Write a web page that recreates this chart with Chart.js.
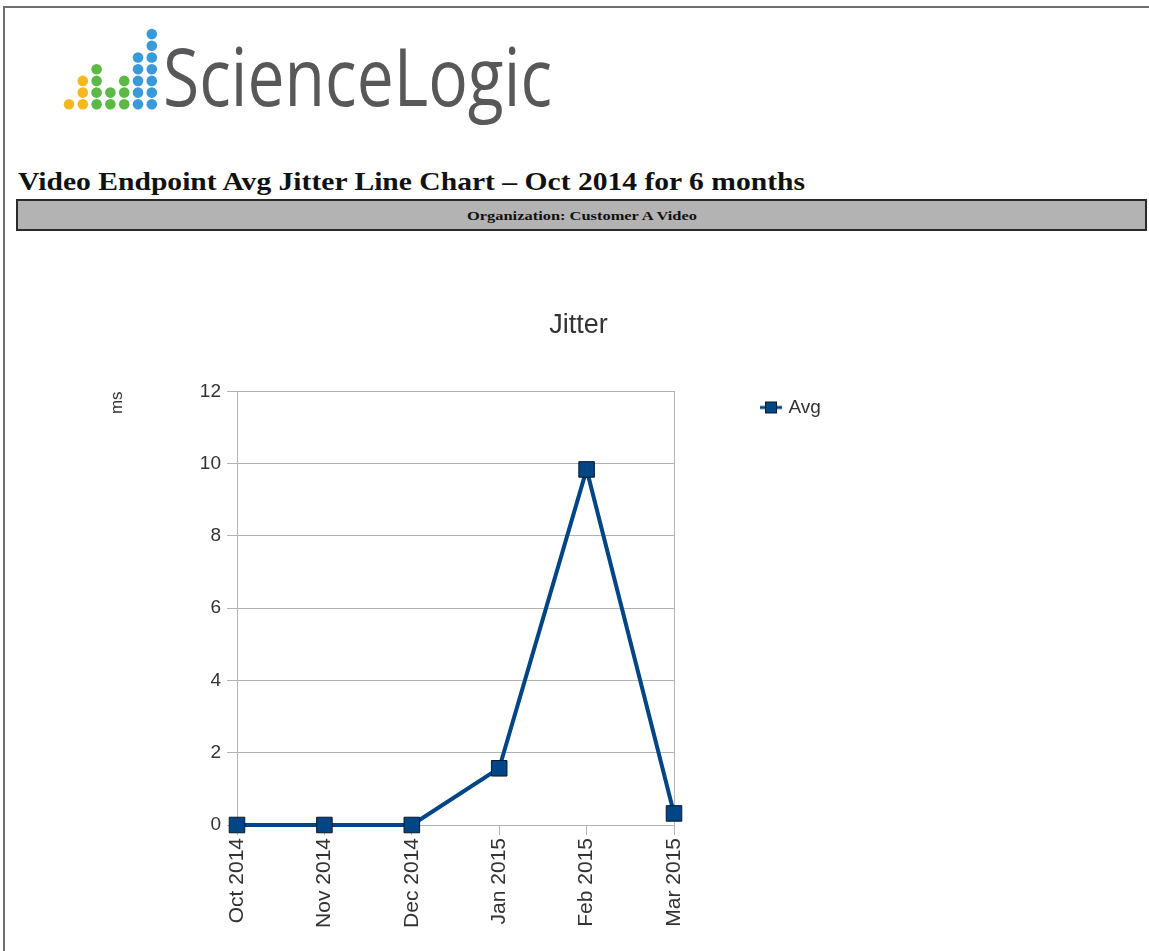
<!doctype html>
<html lang="en">
<head>
<meta charset="utf-8">
<title>Video Endpoint Avg Jitter Line Chart</title>
<script src="https://cdn.jsdelivr.net/npm/chart.js"></script>
<style>
  body { margin: 0; background: #fff; width: 1149px; height: 951px; overflow: hidden; position: relative; }
  #frame { position: absolute; left: 3px; top: 6px; right: 0; bottom: 0; border-top: 2px solid #6e6e6e; border-left: 2px solid #6e6e6e; }
  #header { position: absolute; left: 0; top: 0; }
  #chartBox { position: absolute; left: 8px; top: 280px; }
</style>
</head>
<body>
<div id="frame"></div>

<svg id="header" width="1149" height="240" xmlns="http://www.w3.org/2000/svg">
  <g id="logoDots"></g>
  <text x="163" y="106" font-family="Open Sans" font-size="81" fill="#58585a"
        textLength="389" lengthAdjust="spacingAndGlyphs">ScienceLogic</text>
  <text x="18" y="190" font-family="Liberation Serif" font-weight="bold" font-size="26" fill="#111"
        textLength="787" lengthAdjust="spacingAndGlyphs">Video Endpoint Avg Jitter Line Chart – Oct 2014 for 6 months</text>
  <rect x="17" y="200" width="1129" height="30" fill="#b3b3b3" stroke="#2b2b2b" stroke-width="2"></rect>
  <text x="467" y="220" font-family="Liberation Serif" font-weight="bold" font-size="13" fill="#111"
        textLength="230" lengthAdjust="spacingAndGlyphs">Organization: Customer A Video</text>
</svg>

<div id="chartBox"><canvas id="chart" width="1141" height="671"></canvas></div>

<script>
// chart data
const months = ['Oct 2014', 'Nov 2014', 'Dec 2014', 'Jan 2015', 'Feb 2015', 'Mar 2015'];
const avgJitter = [0, 0, 0, 1.57, 9.84, 0.32];
const yMin = 0;
const yMax = 12;
const yStep = 2;

// logo: dots per column and their colours
const dotColumns = [1, 3, 4, 2, 3, 5, 7];
const dotColors = ['#f5b91f', '#f5b91f', '#5cb946', '#5cb946', '#5cb946', '#3a9ad9', '#3a9ad9'];

const navy = '#004586';
const gridGray = '#b3b3b3';
const textGray = '#333';

// draw the logo dots
(function () {
  const g = document.getElementById('logoDots');
  dotColumns.forEach((count, col) => {
    for (let row = 0; row < count; row++) {
      const c = document.createElementNS('http://www.w3.org/2000/svg', 'circle');
      c.setAttribute('cx', 69 + col * 13.8);
      c.setAttribute('cy', 104.3 - row * 11.7);
      c.setAttribute('r', 5.3);
      c.setAttribute('fill', dotColors[col]);
      g.appendChild(c);
    }
  });
})();

// legend symbol: short line with a square on it
function makeLegendMarker() {
  const cv = document.createElement('canvas');
  cv.width = 22;
  cv.height = 14;
  const ctx = cv.getContext('2d');
  ctx.strokeStyle = navy;
  ctx.lineWidth = 3;
  ctx.beginPath();
  ctx.moveTo(0, 7);
  ctx.lineTo(22, 7);
  ctx.stroke();
  ctx.fillStyle = navy;
  ctx.fillRect(5.5, 1.5, 11, 11);
  ctx.strokeStyle = '#0b1a2a';
  ctx.lineWidth = 1;
  ctx.strokeRect(5.5, 1.5, 11, 11);
  return cv;
}

// put the legend to the right of the plot, level with its top
const legendSpot = {
  id: 'legendSpot',
  afterLayout(chart) {
    const lg = chart.legend;
    const w = lg.width, h = lg.height;
    lg.left = 745;
    lg.top = 108;
    lg.right = lg.left + w;
    lg.bottom = lg.top + h;
  }
};

Chart.defaults.font.family = 'Liberation Sans';
Chart.defaults.color = textGray;

new Chart(document.getElementById('chart'), {
  type: 'line',
  data: {
    labels: months,
    datasets: [{
      label: 'Avg',
      data: avgJitter,
      borderColor: navy,
      backgroundColor: navy,
      borderWidth: 4,
      tension: 0,
      clip: false,
      pointStyle: 'rect',
      pointRadius: 11,
      pointHoverRadius: 11,
      pointBackgroundColor: navy,
      pointBorderColor: '#0b1a2a',
      pointBorderWidth: 1
    }]
  },
  options: {
    responsive: false,
    animation: false,
    devicePixelRatio: 1,
    layout: { padding: 0 },
    plugins: {
      title: {
        display: true,
        text: 'Jitter',
        color: textGray,
        font: { size: 27, weight: 'normal' },
        padding: { top: 29, bottom: 50 }
      },
      legend: {
        position: 'chartArea',
        align: 'start',
        labels: {
          usePointStyle: true,
          pointStyle: makeLegendMarker(),
          pointStyleWidth: 16,
          padding: 10,
          color: textGray,
          font: { size: 19 }
        }
      },
      tooltip: { enabled: false }
    },
    scales: {
      x: {
        grid: { drawOnChartArea: false, tickColor: gridGray, tickLength: 10 },
        border: { color: gridGray },
        ticks: { autoSkip: false, maxRotation: 90, minRotation: 90, padding: 3, font: { size: 21 } },
        afterFit(scale) { scale.height = 126; }
      },
      y: {
        min: yMin,
        max: yMax,
        ticks: { stepSize: yStep, padding: 6, font: { size: 19 } },
        grid: { color: gridGray, tickLength: 10 },
        border: { color: gridGray },
        title: {
          display: true,
          text: 'ms',
          align: 'end',
          color: textGray,
          font: { size: 17 },
          padding: { top: 99, bottom: 0 }
        },
        afterFit(scale) { scale.width = 229; }
      },
      // empty axis on the right: closes the plot frame and keeps the room for the legend
      yRight: {
        position: 'right',
        grid: { drawOnChartArea: false, drawTicks: false },
        ticks: { display: false },
        border: { display: true, color: gridGray },
        afterFit(scale) { scale.width = 475; }
      }
    }
  },
  plugins: [legendSpot]
});
</script>
</body>
</html>
